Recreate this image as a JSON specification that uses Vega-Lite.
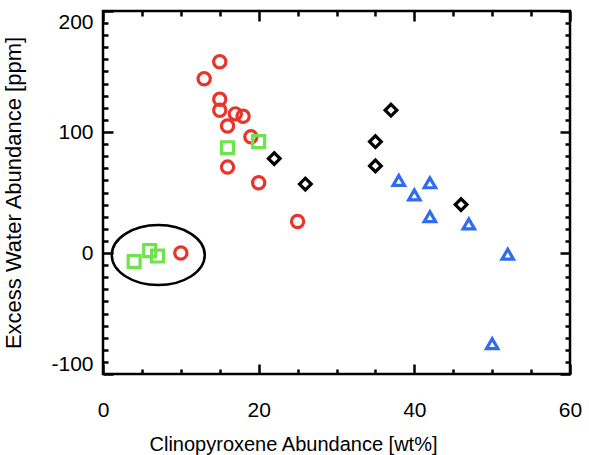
{
  "$schema": "https://vega.github.io/schema/vega-lite/v6.json",
  "width": 467,
  "height": 363,
  "autosize": {"type": "none"},
  "padding": {"left": 103, "top": 11, "right": 19, "bottom": 81},
  "background": "white",
  "datasets": {
    "samples": [
      {"cpx": 15, "water": 158, "series": "A"},
      {"cpx": 13, "water": 144, "series": "A"},
      {"cpx": 15, "water": 127, "series": "A"},
      {"cpx": 15, "water": 118, "series": "A"},
      {"cpx": 17, "water": 115, "series": "A"},
      {"cpx": 18, "water": 113, "series": "A"},
      {"cpx": 16, "water": 105, "series": "A"},
      {"cpx": 19, "water": 96, "series": "A"},
      {"cpx": 16, "water": 71, "series": "A"},
      {"cpx": 20, "water": 58, "series": "A"},
      {"cpx": 25, "water": 26, "series": "A"},
      {"cpx": 10, "water": 0, "series": "A"},
      {"cpx": 16, "water": 87, "series": "B"},
      {"cpx": 20, "water": 92, "series": "B"},
      {"cpx": 4, "water": -7, "series": "B"},
      {"cpx": 6, "water": 2, "series": "B"},
      {"cpx": 7, "water": -2.5, "series": "B"},
      {"cpx": 22, "water": 78, "series": "C"},
      {"cpx": 26, "water": 57, "series": "C"},
      {"cpx": 35, "water": 92, "series": "C"},
      {"cpx": 35, "water": 72, "series": "C"},
      {"cpx": 37, "water": 118, "series": "C"},
      {"cpx": 46, "water": 40, "series": "C"},
      {"cpx": 38, "water": 60, "series": "D"},
      {"cpx": 40, "water": 48, "series": "D"},
      {"cpx": 42, "water": 58, "series": "D"},
      {"cpx": 42, "water": 30, "series": "D"},
      {"cpx": 47, "water": 24, "series": "D"},
      {"cpx": 52, "water": -1, "series": "D"},
      {"cpx": 50, "water": -75, "series": "D"}
    ],
    "outline": [{"cpx": 7.1, "water": -1.7}]
  },
  "layer": [
    {
      "data": {"name": "outline"},
      "mark": {
        "type": "point",
        "shape": "M -1 0 A 1 0.645 0 1 0 1 0 A 1 0.645 0 1 0 -1 0 Z",
        "size": 8649,
        "filled": false,
        "stroke": "black",
        "strokeWidth": 2.5,
        "opacity": 1
      },
      "encoding": {
        "x": {
          "field": "cpx",
          "type": "quantitative",
          "scale": {"domain": [0, 60], "nice": false, "zero": false},
          "axis": {
            "orient": "top",
            "values": [0, 5, 10, 15, 20, 25, 30, 35, 40, 45, 50, 55, 60],
            "labels": false,
            "title": null,
            "tickSize": {"condition": {"test": "datum.value % 20 === 0", "value": -10}, "value": -5}
          }
        },
        "y": {
          "field": "water",
          "type": "quantitative",
          "scale": {"domain": [-100, 200], "nice": false, "zero": false},
          "axis": {
            "orient": "right",
            "values": [-100, -90, -80, -70, -60, -50, -40, -30, -20, -10, 0, 10, 20, 30, 40, 50, 60, 70, 80, 90, 100, 110, 120, 130, 140, 150, 160, 170, 180, 190, 200],
            "labels": false,
            "title": null,
            "tickSize": {"condition": {"test": "datum.value % 100 === 0", "value": -10}, "value": -5}
          }
        }
      }
    },
    {
      "data": {"name": "samples"},
      "mark": {"type": "point", "filled": false, "strokeWidth": 3.2, "opacity": 1},
      "encoding": {
        "x": {
          "field": "cpx",
          "type": "quantitative",
          "scale": {"domain": [0, 60], "nice": false, "zero": false},
          "axis": {
            "orient": "bottom",
            "values": [0, 5, 10, 15, 20, 25, 30, 35, 40, 45, 50, 55, 60],
            "labelExpr": "datum.value % 20 === 0 ? toString(datum.value) : ''",
            "labelFlush": false,
            "labelOverlap": false,
            "labelPadding": 35,
            "title": "Clinopyroxene Abundance [wt%]",
            "titleFontSize": 20,
            "titleAnchor": "middle",
            "titleX": 190,
            "titlePadding": 9,
            "tickSize": {"condition": {"test": "datum.value % 20 === 0", "value": -10}, "value": -5}
          }
        },
        "y": {
          "field": "water",
          "type": "quantitative",
          "scale": {"domain": [-100, 200], "nice": false, "zero": false},
          "axis": {
            "orient": "left",
            "values": [-100, -90, -80, -70, -60, -50, -40, -30, -20, -10, 0, 10, 20, 30, 40, 50, 60, 70, 80, 90, 100, 110, 120, 130, 140, 150, 160, 170, 180, 190, 200],
            "labelExpr": "datum.value % 100 === 0 ? toString(datum.value) : ''",
            "labelFlush": true,
            "labelOverlap": false,
            "labelPadding": 20,
            "title": "Excess Water Abundance [ppm]",
            "titlePadding": 25,
            "tickSize": {"condition": {"test": "datum.value % 100 === 0", "value": -10}, "value": -5}
          }
        },
        "shape": {
          "field": "series",
          "type": "nominal",
          "scale": {"domain": ["A", "B", "C", "D"], "range": ["circle", "square", "diamond", "triangle-up"]},
          "legend": null
        },
        "color": {
          "field": "series",
          "type": "nominal",
          "scale": {"domain": ["A", "B", "C", "D"], "range": ["#e8342a", "#6ee44c", "#000000", "#2f6df0"]},
          "legend": null
        },
        "size": {
          "field": "series",
          "type": "nominal",
          "scale": {"domain": ["A", "B", "C", "D"], "range": [150, 130, 110, 130]},
          "legend": null
        }
      }
    }
  ],
  "resolve": {"axis": {"x": "independent", "y": "independent"}},
  "config": {
    "view": {"stroke": "black", "strokeWidth": 2.5},
    "axis": {
      "domain": false,
      "grid": false,
      "tickColor": "black",
      "tickWidth": 2.5,
      "labelFont": "Liberation Sans",
      "labelFontSize": 21,
      "labelColor": "black",
      "titleFont": "Liberation Sans",
      "titleFontSize": 22,
      "titleFontWeight": "normal",
      "titleColor": "black"
    }
  }
}
